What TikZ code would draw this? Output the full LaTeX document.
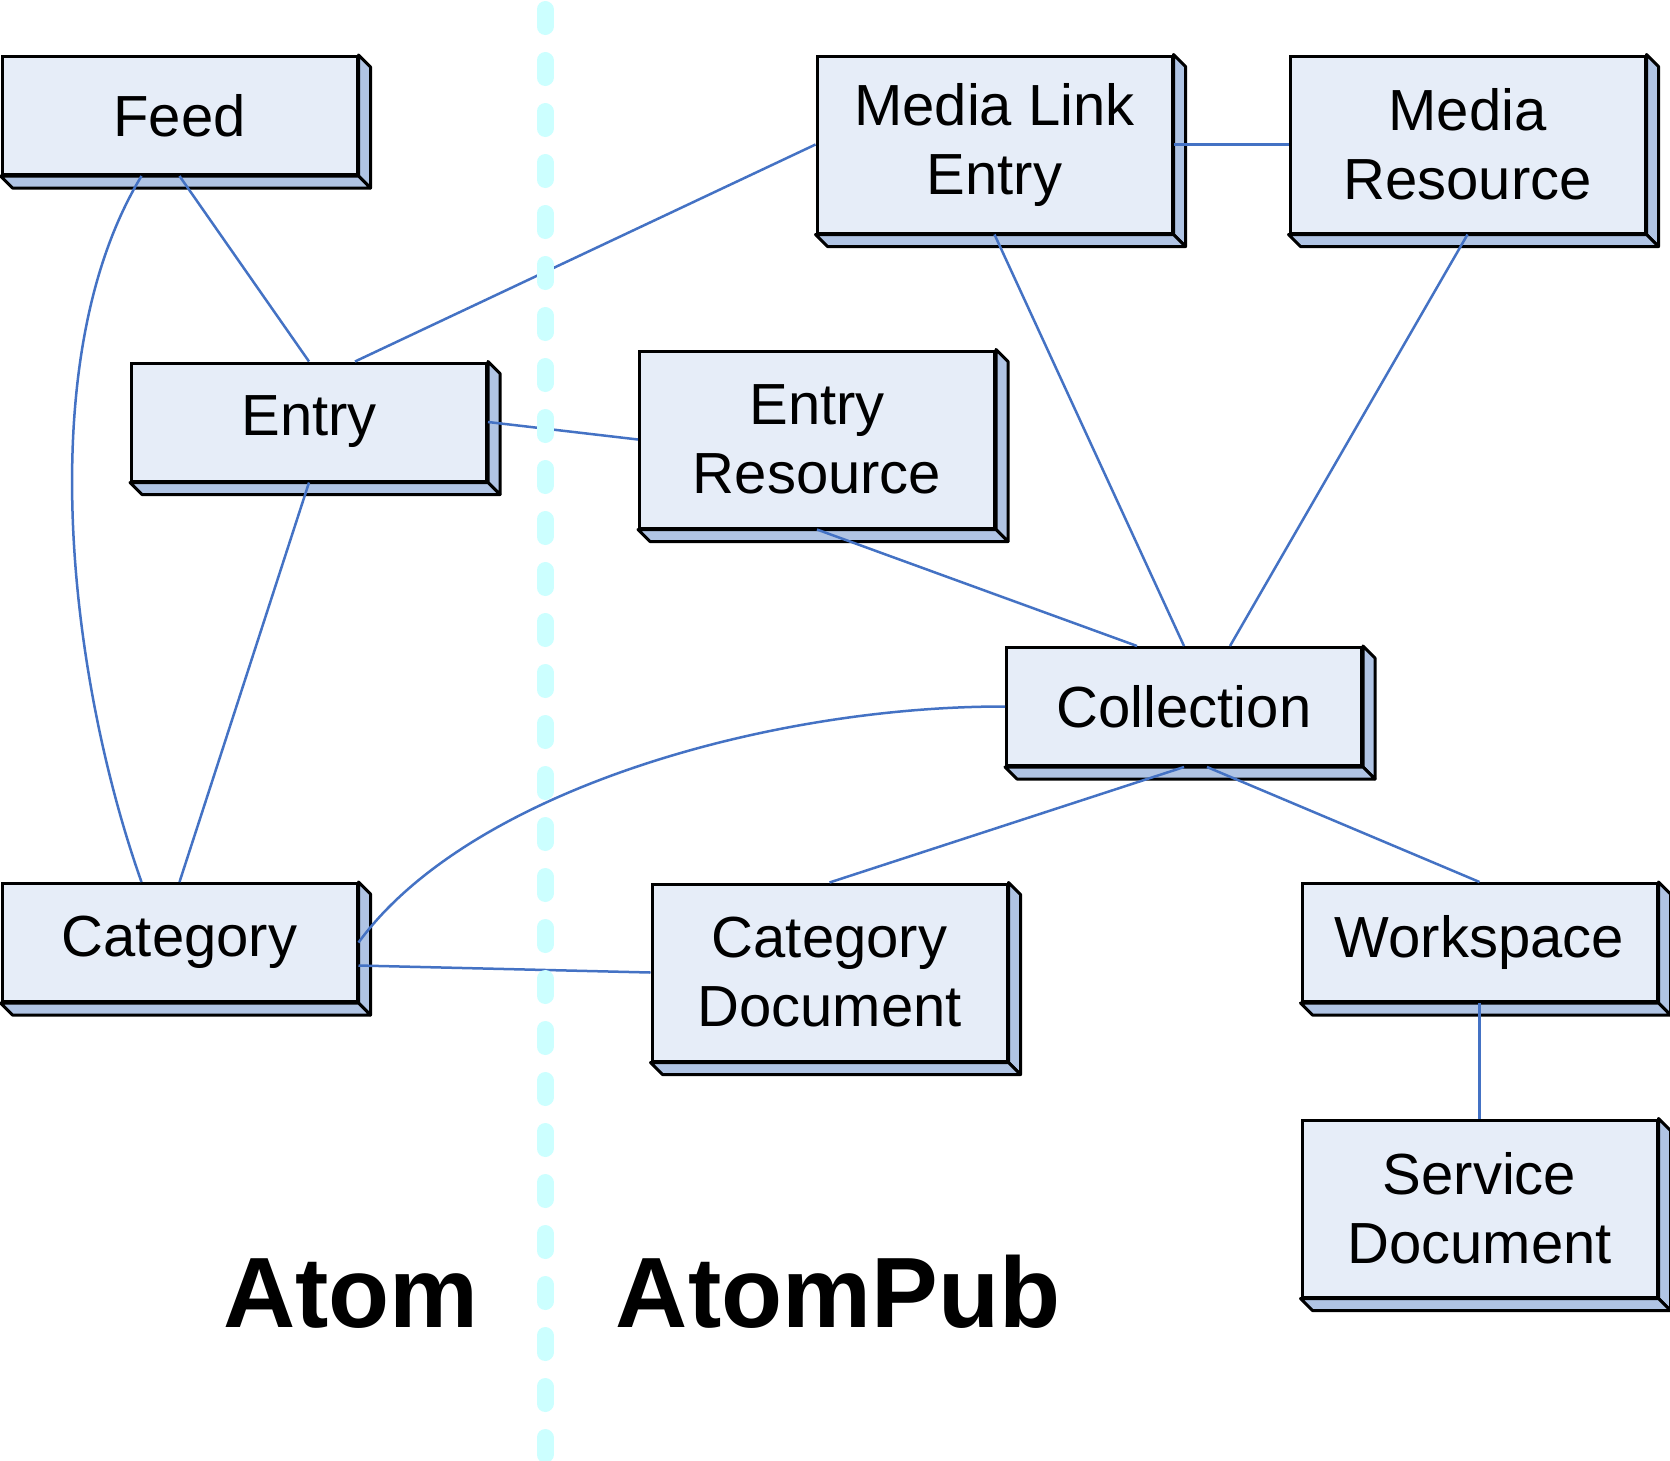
\documentclass[tikz,border=0pt]{standalone}
\usepackage{fontspec}
\setmainfont{Liberation Sans}
\usetikzlibrary{calc}
\definecolor{frontfill}{RGB}{230,237,248}
\definecolor{sidefill}{RGB}{176,196,228}
\definecolor{linkblue}{RGB}{68,114,196}
\definecolor{dashcyan}{RGB}{204,255,255}
\tikzset{
  box/.style={draw=black, line width=3pt, fill=frontfill, minimum width=355pt, inner sep=0pt,
    align=center, font=\fontsize{58}{69}\selectfont},
  onebox/.style={box, minimum height=118pt},
  twobox/.style={box, minimum height=177pt},
  side/.style={draw=black, line width=3pt, fill=sidefill, line join=round},
  link/.style={draw=linkblue, line width=2.5pt},
  divider/.style={draw=dashcyan, line width=17pt, line cap=round, dash pattern=on 17pt off 34pt},
  biglabel/.style={font=\fontsize{100}{110}\selectfont\bfseries, anchor=base}
}
\newcommand\depthof[1]{%
  \filldraw[side] (#1.north east) -- ++(12,12) -- ($(#1.south east)+(12,12)$) -- (#1.south east) -- cycle;
  \filldraw[side] (#1.south west) -- ++(12,12) -- ($(#1.south east)+(12,12)$) -- (#1.south east) -- cycle;
}
\begin{document}
\begin{tikzpicture}[x=1pt,y=-1pt]
\useasboundingbox[fill=white] (0,0) rectangle (1670,1460);

\node[onebox] (feed) at (179.5,115.5) {Feed};
\node[onebox] (entry) at (309,422) {Entry};
\node[twobox] (eres) at (817,439.5) {Entry\\Resource};
\node[twobox] (mle) at (994.5,144.5) {Media Link\\Entry};
\node[twobox] (mres) at (1467.5,144.5) {Media\\Resource};
\node[onebox] (coll) at (1184,706.5) {Collection};
\node[onebox] (cat) at (179.5,942.5) {Category};
\node[twobox] (catdoc) at (829.5,972.5) {Category\\Document};
\node[onebox] (ws) at (1479.5,942.5) {Workspace};
\node[twobox] (sdoc) at (1479.5,1208.5) {Service\\Document};

\foreach \n in {feed,entry,eres,mle,mres,coll,cat,catdoc,ws,sdoc}{\depthof{\n}}

\coordinate (feedL) at ($(feed.south)+(-38,0)$);
\coordinate (catL) at ($(cat.north)+(-38,0)$);
\coordinate (entryR) at ($(entry.north)+(46,0)$);
\coordinate (collL) at ($(coll.north)+(-47,0)$);
\coordinate (collR) at ($(coll.north)+(46,0)$);
\coordinate (collB) at ($(coll.south)+(23,0)$);
\coordinate (catE) at ($(cat.east)+(0,23)$);

\draw[link] (feed.south) -- (entry.north);
\draw[link] (feedL) .. controls (30,360) and (70,680) .. (catL);
\draw[link] (entry.south) -- (cat.north);
\draw[link] (entryR) -- (mle.west);
\draw[link] (entry.east) -- (eres.west);
\draw[link] (mle.east) -- (mres.west);
\draw[link] (mle.south) -- (coll.north);
\draw[link] (mres.south) -- (collR);
\draw[link] (eres.south) -- (collL);
\draw[link] (coll.west) .. controls (770,706) and (470,790) .. (cat.east);
\draw[link] (catE) -- (catdoc.west);
\draw[link] (coll.south) -- (catdoc.north);
\draw[link] (collB) -- (ws.north);
\draw[link] (ws.south) -- (sdoc.north);

\draw[divider] (545,9.5) -- (545,1460);

\node[biglabel] (atom) at (351,1327) {Atom};
\node[biglabel] (atompub) at (838,1327) {AtomPub};
\end{tikzpicture}
\end{document}
